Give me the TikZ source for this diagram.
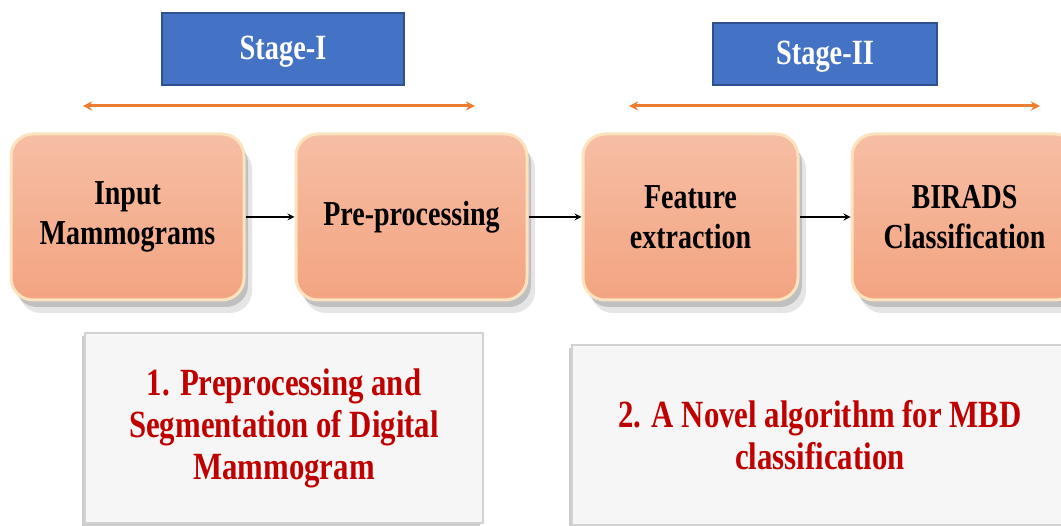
\documentclass[tikz,border=0pt]{standalone}
\usepackage{fontspec}
\setmainfont{Liberation Serif}[FakeStretch=0.8]
\usetikzlibrary{shadows,positioning}
\definecolor{stageblue}{HTML}{4472C4}
\definecolor{stageedge}{HTML}{2F528F}
\definecolor{spanorange}{HTML}{ED7D31}
\definecolor{peachtop}{HTML}{F6BEA4}
\definecolor{peachbot}{HTML}{F3A481}
\definecolor{peachglow}{HTML}{FCE3BF}
\definecolor{taskred}{HTML}{C00000}
\begin{document}
\begin{tikzpicture}[x=1pt,y=-1pt,>=stealth,
    stagebox/.style={draw=stageedge,line width=1.2pt,fill=stageblue,text=white,
        font=\bfseries\fontsize{35.5}{42}\selectfont,inner sep=0pt},
    procbox/.style={rounded corners=22pt,top color=peachtop,bottom color=peachbot,
        draw=peachglow,line width=3pt,align=center,minimum height=166pt,
        font=\bfseries\fontsize{35}{40}\selectfont,
        drop shadow={shadow xshift=8pt,shadow yshift=-13pt,opacity=.1,fill=black},
        drop shadow={shadow xshift=4pt,shadow yshift=-7pt,opacity=.16,fill=black}},
    taskbox/.style={draw=gray!35,line width=2pt,fill=gray!7,align=center,text=taskred,
        font=\bfseries\fontsize{38.5}{42}\selectfont,
        drop shadow={shadow xshift=-3pt,shadow yshift=-3pt,opacity=.4,fill=gray}},
    span/.style={<->,spanorange,line width=3pt}]
    \useasboundingbox (0,0) rectangle (1061,526);
    \node[stagebox,minimum width=242pt,minimum height=72pt] (stageI) at (283,49) {};
    \node[text=white,font=\bfseries\fontsize{35.5}{42}\selectfont] (stageItext) at (283,52) {Stage-I};
    \node[stagebox,minimum width=224pt,minimum height=62pt] (stageII) at (825,54) {};
    \node[text=white,font=\bfseries\fontsize{35.5}{42}\selectfont] (stageIItext) at (825,57) {Stage-II};
    \coordinate (spanIa) at (83,106);
    \coordinate (spanIb) at (475,106);
    \coordinate (spanIIa) at (629,106);
    \coordinate (spanIIb) at (1040,106);
    \draw[span] (spanIa) -- (spanIb);
    \draw[span] (spanIIa) -- (spanIIb);
    \node[procbox,minimum width=233pt] (input) at (127.5,217) {Input\\Mammograms};
    \node[procbox,minimum width=231pt] (prep) at (411.5,217) {Pre-processing};
    \node[procbox,minimum width=215pt] (feat) at (690.5,217) {Feature\\extraction};
    \node[procbox,minimum width=225pt] (birads) at (964.5,217) {BIRADS\\Classification};
    \begin{scope}[line width=2pt]
        \draw[->] (input) -- (prep);
        \draw[->] (prep) -- (feat);
        \draw[->] (feat) -- (birads);
    \end{scope}
    \node[taskbox,minimum width=398pt,minimum height=190pt] (taskI) at (284,428)
        {1. Preprocessing and\\Segmentation of Digital\\Mammogram};
    \node[taskbox,minimum width=496pt,minimum height=180pt] (taskII) at (820,435)
        {2. A Novel algorithm for MBD\\classification};
\end{tikzpicture}
\end{document}
